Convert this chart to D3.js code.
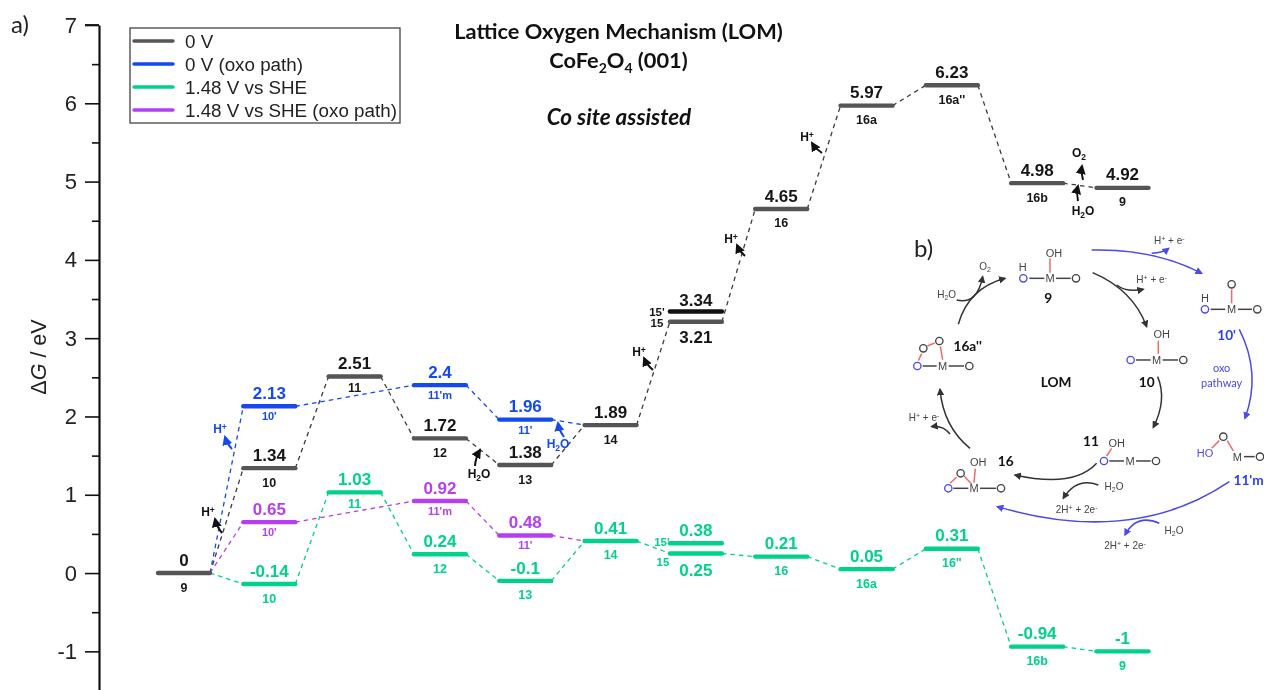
<!DOCTYPE html>
<html><head><meta charset="utf-8">
<script src="https://cdn.jsdelivr.net/npm/d3@7"></script>
<style>
html,body{margin:0;padding:0;background:#fff}
svg{display:block;filter:blur(0.4px)}
text{font-family:"Liberation Sans",Arial,sans-serif}
.cal{font-family:Lato,"Open Sans",sans-serif}
</style></head><body>
<svg id="c" width="1264" height="690"></svg>
<script>
// ---------- data ----------
const legendLabels = ["0 V","0 V (oxo path)","1.48 V vs SHE","1.48 V vs SHE (oxo path)"];
const stepNames = ["9","10","11","12","13","14","15","16","16a","16a''","16b","9"];
const zeroVValues = [0,1.34,2.51,1.72,1.38,1.89,3.21,4.65,5.97,6.23,4.98,4.92];
const appliedNames = ["9","10","11","12","13","14","15","16","16a","16\"","16b","9"];
const appliedValues = [0,-0.14,1.03,0.24,-0.1,0.41,0.25,0.21,0.05,0.31,-0.94,-1];
const oxoSteps = [1,3,4];
const oxoNames = ["10'","11'm","11'"];
const zeroOxoValues = [2.13,2.4,1.96];
const appliedOxoValues = [0.65,0.92,0.48];
const step15Prime = 6;
const zeroPrimeValue = 3.34;
const appliedPrimeValue = 0.38;
const yMajorTicks = [-1,0,1,2,3,4,5,6,7];
const yMinorTicks = [-1.5,-0.5,0.5,1.5,2.5,3.5,4.5,5.5,6.5];

// ---------- style ----------
const GRAY="#555555",BLUE="#1449f2",GREEN="#00d18c",PURPLE="#b53ff0",INK="#161616";
const svg=d3.select("#c");
const x=d3.scaleLinear().domain([0,11]).range([184,1122.5]);
const y=d3.scaleLinear().domain([-1.5,7]).range([690.5,25]);
const HW=26;

// ---------- axis ----------
const axisMajor=d3.axisLeft(y).tickValues(yMajorTicks).tickSize(14).tickSizeOuter(0).tickFormat(d3.format("d")).tickPadding(8);
const axisMinor=d3.axisLeft(y).tickValues(yMinorTicks).tickSize(7).tickSizeOuter(0).tickFormat("");
const gA=svg.append("g").attr("transform","translate(99,0)").call(axisMajor);
gA.selectAll("line").attr("stroke","#111").attr("stroke-width",1.6);
gA.selectAll("path").attr("stroke","#111").attr("stroke-width",2.2);
gA.selectAll("text").attr("font-size",22).attr("fill","#222").text(d=>String(d).replace("−","-"));
const gM=svg.append("g").attr("transform","translate(99,0)").call(axisMinor);
gM.selectAll("line").attr("stroke","#111").attr("stroke-width",1.6);
gM.selectAll("path").remove();
svg.append("line").attr("x1",85).attr("x2",99).attr("y1",25).attr("y2",25).attr("stroke","#111").attr("stroke-width",1.8);
const yl=svg.append("text").attr("transform","translate(46,357) rotate(-90)").attr("text-anchor","middle").attr("font-size",21.5).attr("fill","#222");
yl.append("tspan").text("Δ");yl.append("tspan").attr("font-style","italic").text("G");yl.append("tspan").text(" / eV");

// ---------- energy profile helpers ----------
const gConn=svg.append("g"),gLev=svg.append("g"),gTxt=svg.append("g");
function connect(seq,color){
  const pairs=d3.pairs(seq);
  gConn.selectAll(null).data(pairs).join("line")
   .attr("x1",d=>x(d[0].s)+HW).attr("y1",d=>y(d[0].v))
   .attr("x2",d=>x(d[1].s)-HW).attr("y2",d=>y(d[1].v))
   .attr("stroke",color).attr("stroke-width",1.3).attr("stroke-dasharray","4.5 4");
}
function levels(seq,color,w){
  gLev.selectAll(null).data(seq).join("line")
   .attr("x1",d=>x(d.s)-HW).attr("x2",d=>x(d.s)+HW)
   .attr("y1",d=>y(d.v)).attr("y2",d=>y(d.v))
   .attr("stroke",color).attr("stroke-width",w||4.4).attr("stroke-linecap","round");
}
function labels(seq,color,ink,nameOff,nameSize){
  gTxt.selectAll(null).data(seq).join("text")
   .attr("x",d=>x(d.s)).attr("y",d=>y(d.v)-13.5).attr("dy","0.36em")
   .attr("text-anchor","middle").attr("font-weight","bold").attr("font-size",17)
   .attr("fill",ink).text(d=>d.v);
  gTxt.selectAll(null).data(seq.filter(d=>d.n)).join("text")
   .attr("x",d=>x(d.s)).attr("y",d=>y(d.v)+(d.s===2?nameOff-3:nameOff)).attr("dy","0.36em")
   .attr("text-anchor","middle").attr("font-weight","bold").attr("font-size",nameSize)
   .attr("fill",ink).text(d=>d.n);
}
const zip=(steps,vals,names)=>steps.map((s,i)=>({s,v:vals[i],n:names?names[i]:null}));
const idx=d3.range(stepNames.length);
const black=zip(idx,zeroVValues,stepNames);
const green=zip(idx,appliedValues,appliedNames);
const blueS=zip(oxoSteps,zeroOxoValues,oxoNames);
const purpleS=zip(oxoSteps,appliedOxoValues,oxoNames);

connect(black,"#3c3c3c");
connect(green,GREEN);
connect([black[0],...blueS,black[5]],BLUE);
connect([black[0],...purpleS,green[5]],PURPLE);

levels(green.slice(1),GREEN);
levels([{s:step15Prime,v:appliedPrimeValue}],GREEN);
levels(purpleS,PURPLE);
levels(blueS,BLUE);
levels(black,GRAY);
levels([{s:step15Prime,v:zeroPrimeValue}],"#111",4.4);

const isSplit=d=>d.s===step15Prime;
labels(black.filter(d=>!isSplit(d)),GRAY,INK,14,12.5);
labels(green.filter(d=>!isSplit(d)&&d.s>0),GREEN,GREEN,14,12.5);
labels(blueS,BLUE,BLUE,10,11);
labels(purpleS,PURPLE,PURPLE,10,11);

// split level 15 / 15' labels
function splitLabel(v,txt,col,dy,size){gTxt.append("text").attr("x",x(step15Prime)).attr("y",y(v)+dy).attr("dy","0.36em")
  .attr("text-anchor","middle").attr("font-weight","bold").attr("font-size",size||17).attr("fill",col).text(txt);}
splitLabel(zeroPrimeValue,zeroPrimeValue,INK,-12);
splitLabel(zeroVValues[6],zeroVValues[6],INK,15);
splitLabel(appliedPrimeValue,appliedPrimeValue,GREEN,-13);
splitLabel(appliedValues[6],appliedValues[6],GREEN,16);
function sideLabel(v,txt,col,dx,dy){gTxt.append("text").attr("x",x(step15Prime)+dx).attr("y",y(v)+dy).attr("dy","0.36em")
  .attr("text-anchor","middle").attr("font-weight","bold").attr("font-size",11.5).attr("fill",col).text(txt);}
sideLabel(zeroPrimeValue,"15'",INK,-39,0);
sideLabel(zeroVValues[6],"15",INK,-39,1);
sideLabel(appliedPrimeValue,"15'",GREEN,-34,-1);
sideLabel(appliedValues[6],"15",GREEN,-33,8);

// ---------- legend ----------
const leg=svg.append("g");
leg.append("rect").attr("x",130).attr("y",28).attr("width",270).attr("height",95).attr("fill","#fff").attr("stroke","#444").attr("stroke-width",1.3);
const legColors=[GRAY,BLUE,GREEN,PURPLE];
const legY=d3.scalePoint().domain(legendLabels).range([41,110]);
leg.selectAll("line").data(legendLabels).join("line")
 .attr("x1",134).attr("x2",173).attr("y1",d=>legY(d)).attr("y2",d=>legY(d))
 .attr("stroke",(d,i)=>legColors[i]).attr("stroke-width",3.4).attr("stroke-linecap","round");
leg.selectAll("text").data(legendLabels).join("text")
 .attr("x",185).attr("y",d=>legY(d)).attr("dy","0.36em").attr("font-size",18.8).attr("fill","#222").text(d=>d);

// ---------- titles ----------
const T=svg.append("g").attr("fill","#111").attr("font-weight","bold").attr("text-anchor","middle");
T.append("text").attr("class","cal").attr("font-size",21.8).attr("x",618.5).attr("y",39).text("Lattice Oxygen Mechanism (LOM)");
const t2=T.append("text").attr("class","cal").attr("font-size",21.8).attr("x",618.5).attr("y",68);
t2.append("tspan").text("CoFe");t2.append("tspan").attr("dy",5).attr("font-size",14).text("2");
t2.append("tspan").attr("dy",-5).text("O");t2.append("tspan").attr("dy",5).attr("font-size",14).text("4");
t2.append("tspan").attr("dy",-5).text(" (001)");
T.append("text").attr("class","cal").attr("font-size",22.5).attr("x",619).attr("y",125).attr("font-style","italic").text("Co site assisted");
svg.append("text").attr("class","cal").attr("x",11).attr("y",33).attr("font-size",24).attr("fill","#222").text("a)");
svg.append("text").attr("class","cal").attr("x",914).attr("y",257).attr("font-size",24).attr("fill","#222").text("b)");

// ---------- arrow markers ----------
const defs=svg.append("defs");
function marker(id,c){defs.append("marker").attr("id",id).attr("viewBox","0 0 10 10").attr("refX",8).attr("refY",5)
 .attr("markerWidth",5).attr("markerHeight",5).attr("markerUnits","strokeWidth").attr("orient","auto")
 .append("path").attr("d","M0,0L10,5L0,10Z").attr("fill",c);}
marker("mk","#111");marker("mb",BLUE);marker("mg","#333");marker("mv","#4a4af0");

// ---------- small gas-release annotations on the profile ----------
function tag(txt,xp,yp,col,x1,y1,x2,y2){
  const g=svg.append("g");
  const parts=txt.split("|");
  const t=g.append("text").attr("x",xp).attr("y",yp).attr("dy","0.36em").attr("text-anchor","middle").attr("font-weight","bold").attr("font-size",12).attr("fill",col);
  t.append("tspan").text(parts[0]);
  if(parts[1]==="+"){t.append("tspan").attr("font-size",8.5).attr("dy",-3).text("+");}
  else if(parts[1]){t.append("tspan").attr("font-size",8.5).attr("dy",3).text("2");t.append("tspan").attr("dy",-3).text(parts[2]||"");}
  const mx=(x1+x2)/2+(y2-y1)*0.12,my=(y1+y2)/2-(x2-x1)*0.12;
  g.append("path").attr("d",`M${x1},${y1}Q${mx},${my} ${x2},${y2}`).attr("fill","none").attr("stroke",col).attr("stroke-width",2)
   .attr("marker-end",`url(#${col===BLUE?"mb":"mk"})`);
}
tag("H|+",208,512,"#111",222,533,215,519);
tag("H|+",220,429,BLUE,232,449,225,437);
tag("H|2|O",479,474,"#111",475,466,480,450);
tag("H|2|O",558,444,BLUE,564,437,558,423);
tag("H|+",639,352,"#111",653,370,644,358);
tag("H|+",731,239,"#111",745,256,737,245);
tag("H|+",807,137,"#111",822,153,812,143);
tag("O|2",1079,153,"#111",1083,180,1082,166);
tag("H|2|O",1083,211,"#111",1078,201,1078,186);

// ---------- panel b (scheme, in a 3x local grid) ----------
const B=svg.append("g").attr("transform","translate(900,230) scale(0.3333)");
const KC="#444",BC="#4a4ae6",RC="#f06a6a";
function at(txt,xp,yp,col,size,w){return B.append("text").attr("x",xp).attr("y",yp).attr("dy","0.36em").attr("text-anchor","middle")
  .attr("font-size",size||33).attr("font-weight",w||"normal").attr("fill",col||KC).text(txt);}
function ring(xp,yp,col){B.append("circle").attr("cx",xp).attr("cy",yp).attr("r",11).attr("fill","none").attr("stroke",col||KC).attr("stroke-width",4);}
function bond(a,b,c,d,col){B.append("line").attr("x1",a).attr("y1",b).attr("x2",c).attr("y2",d).attr("stroke",col||KC).attr("stroke-width",4.5);}
function curve(d,col,mk,w){B.append("path").attr("d",d).attr("fill","none").attr("stroke",col).attr("stroke-width",w||4.5).attr("marker-end",`url(#${mk})`);}
function label(txt,xp,yp,col){at(txt,xp,yp,col||"#111",41,"bold").attr("class","cal");}
// 9
ring(370,145,BC);at("H",368,112);at("M",450,145);ring(528,145);at("OH",462,68);
bond(388,145,433,145);bond(468,145,512,145);bond(450,128,450,85,RC);label("9",445,205);
// 10'
ring(915,238,BC);at("H",915,205);at("M",995,238);ring(1072,238);ring(995,163);
bond(932,238,976,238);bond(1014,238,1056,238);bond(995,220,995,178,RC);label("10'",980,315,"#2a3ff0");
// 10
ring(692,390,BC);at("M",770,390);ring(850,390);at("OH",785,312);
bond(708,390,752,390);bond(788,390,834,390);bond(775,372,775,332,RC);label("10",740,455);
// 11'm
ring(970,620);at("HO",915,668,BC);at("M",1012,680);ring(1080,680);
bond(935,655,958,632,RC);bond(982,632,1000,663,RC);bond(1032,680,1064,680);label("11'm",1046,750,"#2a3ff0");
// 11
at("OH",650,638);ring(612,693,BC);at("M",690,693);ring(768,693);
bond(620,678,635,655,RC);bond(628,693,672,693);bond(708,693,752,693);label("11",573,632);
// 16
at("OH",235,697);ring(182,730);ring(145,775,BC);at("M",222,775);ring(303,775);
bond(222,758,226,716,RC);bond(192,738,215,762,RC);bond(150,760,170,742,RC);bond(160,775,205,775);bond(240,775,288,775);label("16",317,693);
// 16a''
ring(118,333);ring(70,355);ring(52,408,BC);at("M",128,408);ring(208,408);
bond(128,390,121,349,RC);bond(82,348,104,339,RC);bond(55,392,65,371,RC);bond(68,408,110,408);bond(146,408,192,408);label("16a''",203,347);
label("LOM",468,457);
// black cycle
curve("M578,128Q700,180 740,290","#333","mg");
curve("M650,165Q680,188 730,178","#333","mg");
curve("M773,440Q802,510 760,592","#333","mg");
curve("M590,700Q520,775 345,735","#333","mg");
curve("M595,765Q530,740 490,805","#333","mg");
curve("M210,655Q130,590 120,478","#333","mg");
curve("M150,612Q130,585 95,590","#333","mg");
curve("M175,283Q205,175 315,145","#333","mg");
curve("M170,210Q232,225 248,140","#333","mg");
// blue cycle
curve("M575,60Q760,55 905,130",BC,"mv");
curve("M755,70Q790,68 806,55",BC,"mv");
curve("M1018,298Q1085,430 1035,565",BC,"mv");
curve("M988,755Q700,950 292,830",BC,"mv");
curve("M778,880Q710,850 675,915",BC,"mv");
// reagents
function rich(xp,yp,pieces,col){const t=B.append("text").attr("x",xp).attr("y",yp).attr("dy","0.36em").attr("text-anchor","middle").attr("font-size",30).attr("fill",col||KC);
  pieces.forEach(p=>{const s=t.append("tspan").text(p[0]);if(p[1]==="sub")s.attr("font-size",21).attr("dy",6);if(p[1]==="sup")s.attr("font-size",21).attr("dy",-9);if(p[1]==="sub2")s.attr("dy",-6);if(p[1]==="sup2")s.attr("dy",9);});}
const pe=[["H"],["+","sup"],[" + e","sup2"],["-","sup"]];
const pe2=[["2H"],["+","sup"],[" + 2e","sup2"],["-","sup"]];
const wat=[["H"],["2","sub"],["O","sub2"]];
rich(808,30,pe);rich(755,147,pe);rich(72,563,pe);
rich(530,838,pe2);rich(675,945,pe2);
rich(140,193,wat);rich(642,768,wat);rich(822,900,wat);
rich(255,110,[["O"],["2","sub"]]);
at("oxo",965,415,BC,33).attr("class","cal");at("pathway",965,458,BC,33).attr("class","cal");
</script>
</body></html>
